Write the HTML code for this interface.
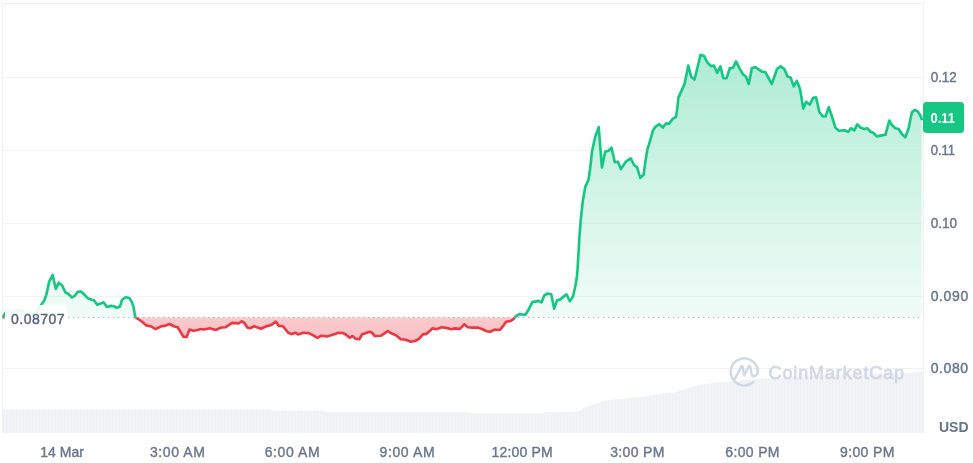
<!DOCTYPE html>
<html lang="en">
<head>
<meta charset="utf-8">
<title>Price chart</title>
<style>
html,body{margin:0;padding:0;background:#fff;}
body{width:973px;height:463px;overflow:hidden;font-family:"Liberation Sans", "DejaVu Sans", sans-serif;}
svg{display:block;}
text{font-family:"Liberation Sans", "DejaVu Sans", sans-serif;}
.ax{font-size:14px;fill:#6b778f;stroke:#6b778f;stroke-width:0.45px;}
.xl{font-size:14px;fill:#6b778f;stroke:#6b778f;stroke-width:0.4px;text-anchor:middle;}
</style>
</head>
<body>
<svg width="973" height="463" viewBox="0 0 973 463">
<defs>
<linearGradient id="gUp" gradientUnits="userSpaceOnUse" x1="0" y1="40" x2="0" y2="317.4">
<stop offset="0" stop-color="#16c784" stop-opacity="0.36"/>
<stop offset="1" stop-color="#16c784" stop-opacity="0.055"/>
</linearGradient>
<linearGradient id="gDn" gradientUnits="userSpaceOnUse" x1="0" y1="317.4" x2="0" y2="432">
<stop offset="0" stop-color="#ea3943" stop-opacity="0.27"/>
<stop offset="1" stop-color="#ea3943" stop-opacity="0.45"/>
</linearGradient>
<linearGradient id="gW" gradientUnits="userSpaceOnUse" x1="0" y1="40" x2="0" y2="317.4">
<stop offset="0" stop-color="#ffffff" stop-opacity="1"/>
<stop offset="0.45" stop-color="#ffffff" stop-opacity="0.8"/>
<stop offset="1" stop-color="#ffffff" stop-opacity="0"/>
</linearGradient>
<clipPath id="cUp"><rect x="0" y="0" width="973" height="317.4"/></clipPath>
<clipPath id="cDn"><rect x="0" y="317.4" width="973" height="150"/></clipPath>
<pattern id="vs" patternUnits="userSpaceOnUse" x="3" y="0" width="3.2" height="10">
<rect x="0" y="0" width="3.2" height="10" fill="#eff2f5"/>
<rect x="2.7" y="0" width="0.5" height="10" fill="#f6f8fa"/>
</pattern>
</defs>
<rect x="0" y="0" width="973" height="463" fill="#ffffff"/>
<!-- grid -->
<g fill="#eff2f5">
<rect x="2" y="3" width="922" height="1"/>
<rect x="2" y="77" width="922" height="1"/>
<rect x="2" y="150" width="922" height="1"/>
<rect x="2" y="223" width="922" height="1"/>
<rect x="2" y="296" width="922" height="1"/>
<rect x="2" y="368" width="922" height="1"/>
<rect x="2" y="432" width="922" height="1"/>
<rect x="2" y="3" width="1" height="430"/>
<rect x="923" y="3" width="1" height="430"/>
</g>
<!-- volume -->
<path d="M3.00,409.60 L272.00,409.60 L272.00,410.80 L324.00,410.80 L324.00,412.00 L468.00,412.00 L468.00,413.30 L545.00,413.30 L545.00,412.00 L575.00,411.70 L581.00,410.30 L584.00,407.70 L593.40,404.20 L603.70,401.10 L609.90,399.70 L622.20,399.00 L632.50,397.40 L642.80,397.00 L653.00,394.90 L663.30,393.30 L673.60,392.45 L683.90,389.70 L692.10,386.70 L702.40,384.60 L710.60,383.20 L720.90,382.00 L733.20,381.30 L759.00,378.70 L798.00,376.70 L837.00,374.70 L876.00,373.50 L902.00,373.00 L923.00,371.40 L923,432.5 L3,432.5 Z" fill="url(#vs)"/>
<!-- watermark -->
<g opacity="0.92">
<g fill="none" stroke="#cfd6e4" stroke-width="2.5" stroke-linecap="round" stroke-linejoin="round">
<path d="M753.3,381.9 A13.5,13.5 0 1 1 757.7,372.6"/>
<path d="M734.4,379.6 L741.2,366.8 Q742.3,365.0 742.8,367.2 L744.2,375.4 L748.6,366.8 Q750.0,364.8 750.5,367.4 L751.4,373.4 Q752.0,376.6 754.4,376.2 Q757.2,375.6 757.7,372.6"/>
</g>
<text x="768.6" y="378.8" font-size="18" letter-spacing="0.87" fill="#cfd6e4" stroke="#cfd6e4" stroke-width="0.75" stroke-linejoin="round">CoinMarketCap</text>
</g>
<!-- area -->
<path d="M3.50,317.40 L3.70,315.70 L7.40,309.90 L11.50,312.80 L17.30,309.90 L20.60,310.30 L25.50,312.80 L30.00,313.40 L36.20,312.60 L40.30,306.00 L41.30,304.70 L44.10,300.80 L46.40,294.60 L49.20,281.60 L52.60,275.00 L55.80,288.90 L58.80,282.70 L62.20,285.50 L65.30,292.30 L68.40,294.00 L72.10,297.40 L74.70,295.90 L77.70,291.70 L80.90,291.50 L84.30,294.60 L87.70,298.20 L91.60,299.70 L94.20,300.40 L97.30,304.70 L100.70,303.60 L103.50,302.30 L106.90,307.00 L110.80,305.90 L113.70,306.20 L116.80,307.80 L119.90,306.70 L122.10,299.70 L125.50,297.20 L129.30,298.00 L131.75,301.90 L133.40,306.40 L135.30,317.20 L135.61,317.40 L141.50,317.40 L146.40,317.40 L151.40,317.40 L155.50,317.40 L161.25,317.40 L164.50,317.40 L169.50,317.40 L174.40,317.40 L177.70,317.40 L183.50,317.40 L186.70,317.40 L189.50,317.40 L193.30,317.40 L196.60,317.40 L200.70,317.40 L204.00,317.40 L209.80,317.40 L215.50,317.40 L221.30,317.40 L225.40,317.40 L232.00,317.40 L238.60,317.40 L241.80,317.40 L244.30,317.40 L247.60,317.40 L250.00,317.40 L254.20,317.40 L260.80,317.40 L266.50,317.40 L271.40,317.40 L275.90,317.40 L278.80,317.40 L283.00,317.40 L288.20,317.40 L291.50,317.40 L295.60,317.40 L298.10,317.40 L303.00,317.40 L308.80,317.40 L313.70,317.40 L317.50,317.40 L321.10,317.40 L326.90,317.40 L332.60,317.40 L338.40,317.40 L343.30,317.40 L346.60,317.40 L349.90,317.40 L352.40,317.40 L355.70,317.40 L359.30,317.40 L362.20,317.40 L365.50,317.40 L368.80,317.40 L371.80,317.40 L374.60,317.40 L381.10,317.40 L387.70,317.40 L391.80,317.40 L396.00,317.40 L400.90,317.40 L405.80,317.40 L410.75,317.40 L414.90,317.40 L419.00,317.40 L423.10,317.40 L426.00,317.40 L428.80,317.40 L432.60,317.40 L435.40,317.40 L437.40,317.40 L441.50,317.40 L446.40,317.40 L451.40,317.40 L454.70,317.40 L459.60,317.40 L462.10,317.40 L464.20,317.40 L467.80,317.40 L472.80,317.40 L477.70,317.40 L482.60,317.40 L486.70,317.40 L490.00,317.40 L495.00,317.40 L499.90,317.40 L503.20,317.40 L506.00,317.40 L510.60,317.40 L513.10,317.40 L514.73,317.40 L515.50,316.50 L519.60,314.10 L525.40,314.70 L528.70,309.50 L532.30,302.10 L538.60,300.90 L541.50,302.40 L544.30,295.50 L547.60,293.50 L551.20,294.20 L554.20,308.70 L557.00,300.40 L559.90,299.60 L566.50,294.30 L569.80,301.25 L573.10,296.30 L575.60,284.80 L576.90,276.60 L577.50,270.00 L579.50,236.00 L580.80,219.20 L582.80,201.10 L585.20,187.10 L588.50,179.70 L590.20,168.20 L592.10,151.00 L595.40,136.20 L598.70,127.10 L601.90,167.40 L605.20,151.80 L608.50,150.70 L611.50,147.70 L614.80,162.20 L617.90,161.70 L620.90,169.10 L625.80,161.70 L630.70,158.40 L634.00,165.00 L637.00,167.10 L640.30,177.80 L643.60,174.80 L645.50,160.90 L647.20,150.20 L650.50,139.50 L652.90,130.40 L655.40,126.80 L659.20,124.20 L662.80,127.50 L666.10,123.40 L669.00,123.80 L672.70,118.90 L676.00,116.90 L677.30,108.20 L678.40,97.60 L684.70,83.60 L688.30,65.50 L691.25,77.00 L694.50,79.50 L700.60,54.80 L704.10,56.10 L707.70,63.00 L711.30,66.30 L713.90,65.50 L717.20,72.90 L720.40,66.30 L723.30,78.20 L726.60,78.20 L729.90,68.00 L732.90,68.00 L736.00,61.40 L739.80,68.80 L743.10,74.50 L745.90,76.50 L748.80,84.10 L751.80,68.30 L755.40,67.10 L762.00,71.70 L765.30,72.10 L771.80,84.10 L777.10,68.80 L780.60,66.30 L784.20,68.80 L787.50,76.50 L790.80,77.80 L793.70,86.40 L796.80,80.80 L800.10,89.30 L803.30,108.60 L806.20,101.80 L809.80,104.70 L813.10,97.70 L816.00,97.40 L819.40,112.10 L823.00,116.50 L825.50,116.50 L828.80,107.10 L832.10,117.00 L835.40,127.70 L839.00,130.70 L844.40,130.20 L848.20,131.80 L851.00,128.20 L854.30,130.50 L857.20,124.40 L860.90,127.70 L864.10,129.00 L867.10,128.20 L870.70,131.80 L873.50,133.00 L876.80,136.40 L880.60,135.60 L885.50,134.60 L889.30,120.60 L892.10,125.20 L895.40,128.20 L898.70,129.00 L902.00,134.30 L905.30,137.20 L908.60,128.50 L911.80,112.60 L914.60,110.10 L917.60,111.25 L920.10,114.90 L921.70,119.00 L921.70,317.4 L3.50,317.4 Z" fill="url(#gW)"/>
<path d="M3.50,317.40 L3.70,315.70 L7.40,309.90 L11.50,312.80 L17.30,309.90 L20.60,310.30 L25.50,312.80 L30.00,313.40 L36.20,312.60 L40.30,306.00 L41.30,304.70 L44.10,300.80 L46.40,294.60 L49.20,281.60 L52.60,275.00 L55.80,288.90 L58.80,282.70 L62.20,285.50 L65.30,292.30 L68.40,294.00 L72.10,297.40 L74.70,295.90 L77.70,291.70 L80.90,291.50 L84.30,294.60 L87.70,298.20 L91.60,299.70 L94.20,300.40 L97.30,304.70 L100.70,303.60 L103.50,302.30 L106.90,307.00 L110.80,305.90 L113.70,306.20 L116.80,307.80 L119.90,306.70 L122.10,299.70 L125.50,297.20 L129.30,298.00 L131.75,301.90 L133.40,306.40 L135.30,317.20 L135.61,317.40 L141.50,317.40 L146.40,317.40 L151.40,317.40 L155.50,317.40 L161.25,317.40 L164.50,317.40 L169.50,317.40 L174.40,317.40 L177.70,317.40 L183.50,317.40 L186.70,317.40 L189.50,317.40 L193.30,317.40 L196.60,317.40 L200.70,317.40 L204.00,317.40 L209.80,317.40 L215.50,317.40 L221.30,317.40 L225.40,317.40 L232.00,317.40 L238.60,317.40 L241.80,317.40 L244.30,317.40 L247.60,317.40 L250.00,317.40 L254.20,317.40 L260.80,317.40 L266.50,317.40 L271.40,317.40 L275.90,317.40 L278.80,317.40 L283.00,317.40 L288.20,317.40 L291.50,317.40 L295.60,317.40 L298.10,317.40 L303.00,317.40 L308.80,317.40 L313.70,317.40 L317.50,317.40 L321.10,317.40 L326.90,317.40 L332.60,317.40 L338.40,317.40 L343.30,317.40 L346.60,317.40 L349.90,317.40 L352.40,317.40 L355.70,317.40 L359.30,317.40 L362.20,317.40 L365.50,317.40 L368.80,317.40 L371.80,317.40 L374.60,317.40 L381.10,317.40 L387.70,317.40 L391.80,317.40 L396.00,317.40 L400.90,317.40 L405.80,317.40 L410.75,317.40 L414.90,317.40 L419.00,317.40 L423.10,317.40 L426.00,317.40 L428.80,317.40 L432.60,317.40 L435.40,317.40 L437.40,317.40 L441.50,317.40 L446.40,317.40 L451.40,317.40 L454.70,317.40 L459.60,317.40 L462.10,317.40 L464.20,317.40 L467.80,317.40 L472.80,317.40 L477.70,317.40 L482.60,317.40 L486.70,317.40 L490.00,317.40 L495.00,317.40 L499.90,317.40 L503.20,317.40 L506.00,317.40 L510.60,317.40 L513.10,317.40 L514.73,317.40 L515.50,316.50 L519.60,314.10 L525.40,314.70 L528.70,309.50 L532.30,302.10 L538.60,300.90 L541.50,302.40 L544.30,295.50 L547.60,293.50 L551.20,294.20 L554.20,308.70 L557.00,300.40 L559.90,299.60 L566.50,294.30 L569.80,301.25 L573.10,296.30 L575.60,284.80 L576.90,276.60 L577.50,270.00 L579.50,236.00 L580.80,219.20 L582.80,201.10 L585.20,187.10 L588.50,179.70 L590.20,168.20 L592.10,151.00 L595.40,136.20 L598.70,127.10 L601.90,167.40 L605.20,151.80 L608.50,150.70 L611.50,147.70 L614.80,162.20 L617.90,161.70 L620.90,169.10 L625.80,161.70 L630.70,158.40 L634.00,165.00 L637.00,167.10 L640.30,177.80 L643.60,174.80 L645.50,160.90 L647.20,150.20 L650.50,139.50 L652.90,130.40 L655.40,126.80 L659.20,124.20 L662.80,127.50 L666.10,123.40 L669.00,123.80 L672.70,118.90 L676.00,116.90 L677.30,108.20 L678.40,97.60 L684.70,83.60 L688.30,65.50 L691.25,77.00 L694.50,79.50 L700.60,54.80 L704.10,56.10 L707.70,63.00 L711.30,66.30 L713.90,65.50 L717.20,72.90 L720.40,66.30 L723.30,78.20 L726.60,78.20 L729.90,68.00 L732.90,68.00 L736.00,61.40 L739.80,68.80 L743.10,74.50 L745.90,76.50 L748.80,84.10 L751.80,68.30 L755.40,67.10 L762.00,71.70 L765.30,72.10 L771.80,84.10 L777.10,68.80 L780.60,66.30 L784.20,68.80 L787.50,76.50 L790.80,77.80 L793.70,86.40 L796.80,80.80 L800.10,89.30 L803.30,108.60 L806.20,101.80 L809.80,104.70 L813.10,97.70 L816.00,97.40 L819.40,112.10 L823.00,116.50 L825.50,116.50 L828.80,107.10 L832.10,117.00 L835.40,127.70 L839.00,130.70 L844.40,130.20 L848.20,131.80 L851.00,128.20 L854.30,130.50 L857.20,124.40 L860.90,127.70 L864.10,129.00 L867.10,128.20 L870.70,131.80 L873.50,133.00 L876.80,136.40 L880.60,135.60 L885.50,134.60 L889.30,120.60 L892.10,125.20 L895.40,128.20 L898.70,129.00 L902.00,134.30 L905.30,137.20 L908.60,128.50 L911.80,112.60 L914.60,110.10 L917.60,111.25 L920.10,114.90 L921.70,119.00 L921.70,317.4 L3.50,317.4 Z" fill="url(#gUp)"/>
<path d="M3.50,317.40 L3.70,317.40 L7.40,317.40 L11.50,317.40 L17.30,317.40 L20.60,317.40 L25.50,317.40 L30.00,317.40 L36.20,317.40 L40.30,317.40 L41.30,317.40 L44.10,317.40 L46.40,317.40 L49.20,317.40 L52.60,317.40 L55.80,317.40 L58.80,317.40 L62.20,317.40 L65.30,317.40 L68.40,317.40 L72.10,317.40 L74.70,317.40 L77.70,317.40 L80.90,317.40 L84.30,317.40 L87.70,317.40 L91.60,317.40 L94.20,317.40 L97.30,317.40 L100.70,317.40 L103.50,317.40 L106.90,317.40 L110.80,317.40 L113.70,317.40 L116.80,317.40 L119.90,317.40 L122.10,317.40 L125.50,317.40 L129.30,317.40 L131.75,317.40 L133.40,317.40 L135.30,317.40 L135.61,317.40 L141.50,321.25 L146.40,325.40 L151.40,326.50 L155.50,329.10 L161.25,326.20 L164.50,325.90 L169.50,324.00 L174.40,326.50 L177.70,327.30 L183.50,336.90 L186.70,336.90 L189.50,329.50 L193.30,330.80 L196.60,330.30 L200.70,329.00 L204.00,329.50 L209.80,328.20 L215.50,330.00 L221.30,327.50 L225.40,327.30 L232.00,322.90 L238.60,323.40 L241.80,321.25 L244.30,322.90 L247.60,327.80 L250.00,328.20 L254.20,326.20 L260.80,328.70 L266.50,326.20 L271.40,324.90 L275.90,321.70 L278.80,325.90 L283.00,326.20 L288.20,332.80 L291.50,334.10 L295.60,332.80 L298.10,334.40 L303.00,332.80 L308.80,333.10 L313.70,335.60 L317.50,338.00 L321.10,335.70 L326.90,336.40 L332.60,334.70 L338.40,332.80 L343.30,333.10 L346.60,335.20 L349.90,337.70 L352.40,336.00 L355.70,338.80 L359.30,339.30 L362.20,334.10 L365.50,333.25 L368.80,331.90 L371.80,332.40 L374.60,336.00 L381.10,335.70 L387.70,331.10 L391.80,333.60 L396.00,335.20 L400.90,339.30 L405.80,339.80 L410.75,341.80 L414.90,341.00 L419.00,338.80 L423.10,334.10 L426.00,334.10 L428.80,331.90 L432.60,328.20 L435.40,329.10 L437.40,328.90 L441.50,327.20 L446.40,327.90 L451.40,329.20 L454.70,328.40 L459.60,328.90 L462.10,326.70 L464.20,324.30 L467.80,327.20 L472.80,327.60 L477.70,327.60 L482.60,329.20 L486.70,331.30 L490.00,331.70 L495.00,329.50 L499.90,330.00 L503.20,325.90 L506.00,321.80 L510.60,321.00 L513.10,319.30 L514.73,317.40 L515.50,317.40 L519.60,317.40 L525.40,317.40 L528.70,317.40 L532.30,317.40 L538.60,317.40 L541.50,317.40 L544.30,317.40 L547.60,317.40 L551.20,317.40 L554.20,317.40 L557.00,317.40 L559.90,317.40 L566.50,317.40 L569.80,317.40 L573.10,317.40 L575.60,317.40 L576.90,317.40 L577.50,317.40 L579.50,317.40 L580.80,317.40 L582.80,317.40 L585.20,317.40 L588.50,317.40 L590.20,317.40 L592.10,317.40 L595.40,317.40 L598.70,317.40 L601.90,317.40 L605.20,317.40 L608.50,317.40 L611.50,317.40 L614.80,317.40 L617.90,317.40 L620.90,317.40 L625.80,317.40 L630.70,317.40 L634.00,317.40 L637.00,317.40 L640.30,317.40 L643.60,317.40 L645.50,317.40 L647.20,317.40 L650.50,317.40 L652.90,317.40 L655.40,317.40 L659.20,317.40 L662.80,317.40 L666.10,317.40 L669.00,317.40 L672.70,317.40 L676.00,317.40 L677.30,317.40 L678.40,317.40 L684.70,317.40 L688.30,317.40 L691.25,317.40 L694.50,317.40 L700.60,317.40 L704.10,317.40 L707.70,317.40 L711.30,317.40 L713.90,317.40 L717.20,317.40 L720.40,317.40 L723.30,317.40 L726.60,317.40 L729.90,317.40 L732.90,317.40 L736.00,317.40 L739.80,317.40 L743.10,317.40 L745.90,317.40 L748.80,317.40 L751.80,317.40 L755.40,317.40 L762.00,317.40 L765.30,317.40 L771.80,317.40 L777.10,317.40 L780.60,317.40 L784.20,317.40 L787.50,317.40 L790.80,317.40 L793.70,317.40 L796.80,317.40 L800.10,317.40 L803.30,317.40 L806.20,317.40 L809.80,317.40 L813.10,317.40 L816.00,317.40 L819.40,317.40 L823.00,317.40 L825.50,317.40 L828.80,317.40 L832.10,317.40 L835.40,317.40 L839.00,317.40 L844.40,317.40 L848.20,317.40 L851.00,317.40 L854.30,317.40 L857.20,317.40 L860.90,317.40 L864.10,317.40 L867.10,317.40 L870.70,317.40 L873.50,317.40 L876.80,317.40 L880.60,317.40 L885.50,317.40 L889.30,317.40 L892.10,317.40 L895.40,317.40 L898.70,317.40 L902.00,317.40 L905.30,317.40 L908.60,317.40 L911.80,317.40 L914.60,317.40 L917.60,317.40 L920.10,317.40 L921.70,317.40 L921.70,317.4 L3.50,317.4 Z" fill="url(#gDn)"/>
<!-- baseline dotted -->
<line x1="3" y1="317.4" x2="923" y2="317.4" stroke="#8a93a5" stroke-width="1" stroke-dasharray="1 4" stroke-dashoffset="-0.3" />
<!-- line -->
<path d="M3.50,317.40 L3.70,315.70 L7.40,309.90 L11.50,312.80 L17.30,309.90 L20.60,310.30 L25.50,312.80 L30.00,313.40 L36.20,312.60 L40.30,306.00 L41.30,304.70 L44.10,300.80 L46.40,294.60 L49.20,281.60 L52.60,275.00 L55.80,288.90 L58.80,282.70 L62.20,285.50 L65.30,292.30 L68.40,294.00 L72.10,297.40 L74.70,295.90 L77.70,291.70 L80.90,291.50 L84.30,294.60 L87.70,298.20 L91.60,299.70 L94.20,300.40 L97.30,304.70 L100.70,303.60 L103.50,302.30 L106.90,307.00 L110.80,305.90 L113.70,306.20 L116.80,307.80 L119.90,306.70 L122.10,299.70 L125.50,297.20 L129.30,298.00 L131.75,301.90 L133.40,306.40 L135.30,317.20 L141.50,321.25 L146.40,325.40 L151.40,326.50 L155.50,329.10 L161.25,326.20 L164.50,325.90 L169.50,324.00 L174.40,326.50 L177.70,327.30 L183.50,336.90 L186.70,336.90 L189.50,329.50 L193.30,330.80 L196.60,330.30 L200.70,329.00 L204.00,329.50 L209.80,328.20 L215.50,330.00 L221.30,327.50 L225.40,327.30 L232.00,322.90 L238.60,323.40 L241.80,321.25 L244.30,322.90 L247.60,327.80 L250.00,328.20 L254.20,326.20 L260.80,328.70 L266.50,326.20 L271.40,324.90 L275.90,321.70 L278.80,325.90 L283.00,326.20 L288.20,332.80 L291.50,334.10 L295.60,332.80 L298.10,334.40 L303.00,332.80 L308.80,333.10 L313.70,335.60 L317.50,338.00 L321.10,335.70 L326.90,336.40 L332.60,334.70 L338.40,332.80 L343.30,333.10 L346.60,335.20 L349.90,337.70 L352.40,336.00 L355.70,338.80 L359.30,339.30 L362.20,334.10 L365.50,333.25 L368.80,331.90 L371.80,332.40 L374.60,336.00 L381.10,335.70 L387.70,331.10 L391.80,333.60 L396.00,335.20 L400.90,339.30 L405.80,339.80 L410.75,341.80 L414.90,341.00 L419.00,338.80 L423.10,334.10 L426.00,334.10 L428.80,331.90 L432.60,328.20 L435.40,329.10 L437.40,328.90 L441.50,327.20 L446.40,327.90 L451.40,329.20 L454.70,328.40 L459.60,328.90 L462.10,326.70 L464.20,324.30 L467.80,327.20 L472.80,327.60 L477.70,327.60 L482.60,329.20 L486.70,331.30 L490.00,331.70 L495.00,329.50 L499.90,330.00 L503.20,325.90 L506.00,321.80 L510.60,321.00 L513.10,319.30 L515.50,316.50 L519.60,314.10 L525.40,314.70 L528.70,309.50 L532.30,302.10 L538.60,300.90 L541.50,302.40 L544.30,295.50 L547.60,293.50 L551.20,294.20 L554.20,308.70 L557.00,300.40 L559.90,299.60 L566.50,294.30 L569.80,301.25 L573.10,296.30 L575.60,284.80 L576.90,276.60 L577.50,270.00 L579.50,236.00 L580.80,219.20 L582.80,201.10 L585.20,187.10 L588.50,179.70 L590.20,168.20 L592.10,151.00 L595.40,136.20 L598.70,127.10 L601.90,167.40 L605.20,151.80 L608.50,150.70 L611.50,147.70 L614.80,162.20 L617.90,161.70 L620.90,169.10 L625.80,161.70 L630.70,158.40 L634.00,165.00 L637.00,167.10 L640.30,177.80 L643.60,174.80 L645.50,160.90 L647.20,150.20 L650.50,139.50 L652.90,130.40 L655.40,126.80 L659.20,124.20 L662.80,127.50 L666.10,123.40 L669.00,123.80 L672.70,118.90 L676.00,116.90 L677.30,108.20 L678.40,97.60 L684.70,83.60 L688.30,65.50 L691.25,77.00 L694.50,79.50 L700.60,54.80 L704.10,56.10 L707.70,63.00 L711.30,66.30 L713.90,65.50 L717.20,72.90 L720.40,66.30 L723.30,78.20 L726.60,78.20 L729.90,68.00 L732.90,68.00 L736.00,61.40 L739.80,68.80 L743.10,74.50 L745.90,76.50 L748.80,84.10 L751.80,68.30 L755.40,67.10 L762.00,71.70 L765.30,72.10 L771.80,84.10 L777.10,68.80 L780.60,66.30 L784.20,68.80 L787.50,76.50 L790.80,77.80 L793.70,86.40 L796.80,80.80 L800.10,89.30 L803.30,108.60 L806.20,101.80 L809.80,104.70 L813.10,97.70 L816.00,97.40 L819.40,112.10 L823.00,116.50 L825.50,116.50 L828.80,107.10 L832.10,117.00 L835.40,127.70 L839.00,130.70 L844.40,130.20 L848.20,131.80 L851.00,128.20 L854.30,130.50 L857.20,124.40 L860.90,127.70 L864.10,129.00 L867.10,128.20 L870.70,131.80 L873.50,133.00 L876.80,136.40 L880.60,135.60 L885.50,134.60 L889.30,120.60 L892.10,125.20 L895.40,128.20 L898.70,129.00 L902.00,134.30 L905.30,137.20 L908.60,128.50 L911.80,112.60 L914.60,110.10 L917.60,111.25 L920.10,114.90 L921.70,119.00" fill="none" stroke="#16c784" stroke-width="2.65" stroke-linejoin="round" stroke-linecap="round" clip-path="url(#cUp)"/>
<path d="M3.50,317.40 L3.70,315.70 L7.40,309.90 L11.50,312.80 L17.30,309.90 L20.60,310.30 L25.50,312.80 L30.00,313.40 L36.20,312.60 L40.30,306.00 L41.30,304.70 L44.10,300.80 L46.40,294.60 L49.20,281.60 L52.60,275.00 L55.80,288.90 L58.80,282.70 L62.20,285.50 L65.30,292.30 L68.40,294.00 L72.10,297.40 L74.70,295.90 L77.70,291.70 L80.90,291.50 L84.30,294.60 L87.70,298.20 L91.60,299.70 L94.20,300.40 L97.30,304.70 L100.70,303.60 L103.50,302.30 L106.90,307.00 L110.80,305.90 L113.70,306.20 L116.80,307.80 L119.90,306.70 L122.10,299.70 L125.50,297.20 L129.30,298.00 L131.75,301.90 L133.40,306.40 L135.30,317.20 L141.50,321.25 L146.40,325.40 L151.40,326.50 L155.50,329.10 L161.25,326.20 L164.50,325.90 L169.50,324.00 L174.40,326.50 L177.70,327.30 L183.50,336.90 L186.70,336.90 L189.50,329.50 L193.30,330.80 L196.60,330.30 L200.70,329.00 L204.00,329.50 L209.80,328.20 L215.50,330.00 L221.30,327.50 L225.40,327.30 L232.00,322.90 L238.60,323.40 L241.80,321.25 L244.30,322.90 L247.60,327.80 L250.00,328.20 L254.20,326.20 L260.80,328.70 L266.50,326.20 L271.40,324.90 L275.90,321.70 L278.80,325.90 L283.00,326.20 L288.20,332.80 L291.50,334.10 L295.60,332.80 L298.10,334.40 L303.00,332.80 L308.80,333.10 L313.70,335.60 L317.50,338.00 L321.10,335.70 L326.90,336.40 L332.60,334.70 L338.40,332.80 L343.30,333.10 L346.60,335.20 L349.90,337.70 L352.40,336.00 L355.70,338.80 L359.30,339.30 L362.20,334.10 L365.50,333.25 L368.80,331.90 L371.80,332.40 L374.60,336.00 L381.10,335.70 L387.70,331.10 L391.80,333.60 L396.00,335.20 L400.90,339.30 L405.80,339.80 L410.75,341.80 L414.90,341.00 L419.00,338.80 L423.10,334.10 L426.00,334.10 L428.80,331.90 L432.60,328.20 L435.40,329.10 L437.40,328.90 L441.50,327.20 L446.40,327.90 L451.40,329.20 L454.70,328.40 L459.60,328.90 L462.10,326.70 L464.20,324.30 L467.80,327.20 L472.80,327.60 L477.70,327.60 L482.60,329.20 L486.70,331.30 L490.00,331.70 L495.00,329.50 L499.90,330.00 L503.20,325.90 L506.00,321.80 L510.60,321.00 L513.10,319.30 L515.50,316.50 L519.60,314.10 L525.40,314.70 L528.70,309.50 L532.30,302.10 L538.60,300.90 L541.50,302.40 L544.30,295.50 L547.60,293.50 L551.20,294.20 L554.20,308.70 L557.00,300.40 L559.90,299.60 L566.50,294.30 L569.80,301.25 L573.10,296.30 L575.60,284.80 L576.90,276.60 L577.50,270.00 L579.50,236.00 L580.80,219.20 L582.80,201.10 L585.20,187.10 L588.50,179.70 L590.20,168.20 L592.10,151.00 L595.40,136.20 L598.70,127.10 L601.90,167.40 L605.20,151.80 L608.50,150.70 L611.50,147.70 L614.80,162.20 L617.90,161.70 L620.90,169.10 L625.80,161.70 L630.70,158.40 L634.00,165.00 L637.00,167.10 L640.30,177.80 L643.60,174.80 L645.50,160.90 L647.20,150.20 L650.50,139.50 L652.90,130.40 L655.40,126.80 L659.20,124.20 L662.80,127.50 L666.10,123.40 L669.00,123.80 L672.70,118.90 L676.00,116.90 L677.30,108.20 L678.40,97.60 L684.70,83.60 L688.30,65.50 L691.25,77.00 L694.50,79.50 L700.60,54.80 L704.10,56.10 L707.70,63.00 L711.30,66.30 L713.90,65.50 L717.20,72.90 L720.40,66.30 L723.30,78.20 L726.60,78.20 L729.90,68.00 L732.90,68.00 L736.00,61.40 L739.80,68.80 L743.10,74.50 L745.90,76.50 L748.80,84.10 L751.80,68.30 L755.40,67.10 L762.00,71.70 L765.30,72.10 L771.80,84.10 L777.10,68.80 L780.60,66.30 L784.20,68.80 L787.50,76.50 L790.80,77.80 L793.70,86.40 L796.80,80.80 L800.10,89.30 L803.30,108.60 L806.20,101.80 L809.80,104.70 L813.10,97.70 L816.00,97.40 L819.40,112.10 L823.00,116.50 L825.50,116.50 L828.80,107.10 L832.10,117.00 L835.40,127.70 L839.00,130.70 L844.40,130.20 L848.20,131.80 L851.00,128.20 L854.30,130.50 L857.20,124.40 L860.90,127.70 L864.10,129.00 L867.10,128.20 L870.70,131.80 L873.50,133.00 L876.80,136.40 L880.60,135.60 L885.50,134.60 L889.30,120.60 L892.10,125.20 L895.40,128.20 L898.70,129.00 L902.00,134.30 L905.30,137.20 L908.60,128.50 L911.80,112.60 L914.60,110.10 L917.60,111.25 L920.10,114.90 L921.70,119.00" fill="none" stroke="#ea3943" stroke-width="2.65" stroke-linejoin="round" stroke-linecap="round" clip-path="url(#cDn)"/>
<!-- baseline label -->
<rect x="5" y="305" width="63" height="26" rx="6" fill="#ffffff" fill-opacity="0.9"/>
<text x="11.0" y="323.9" font-size="14" letter-spacing="0.5" fill="#58667e" stroke="#58667e" stroke-width="0.45">0.08707</text>
<!-- y labels -->
<text x="930.7" y="81.8" textLength="26.1" lengthAdjust="spacingAndGlyphs" class="ax">0.12</text>
<text x="930.7" y="154.8" textLength="24.4" lengthAdjust="spacingAndGlyphs" class="ax">0.11</text>
<text x="930.7" y="227.8" textLength="26.4" lengthAdjust="spacingAndGlyphs" class="ax">0.10</text>
<text x="930.7" y="300.8" letter-spacing="0.62" class="ax">0.090</text>
<text x="930.7" y="373.3" letter-spacing="0.6" class="ax">0.080</text>
<!-- current price tag -->
<rect x="923" y="102" width="41" height="31" rx="3.5" fill="#16c784"/>
<text x="930.6" y="123" font-size="14" font-weight="bold" textLength="24.4" lengthAdjust="spacingAndGlyphs" fill="#ffffff">0.11</text>
<text x="939" y="431.9" font-size="14" font-weight="bold" fill="#68748b">USD</text>
<!-- x labels -->
<text x="62.1" y="456.9" letter-spacing="0" class="xl">14 Mar</text>
<text x="177.7" y="456.9" letter-spacing="0.6" class="xl">3:00 AM</text>
<text x="292.5" y="456.9" letter-spacing="0.6" class="xl">6:00 AM</text>
<text x="407.4" y="456.9" letter-spacing="0.6" class="xl">9:00 AM</text>
<text x="522.2" y="456.9" letter-spacing="0.2" class="xl">12:00 PM</text>
<text x="637.5" y="456.9" letter-spacing="0.35" class="xl">3:00 PM</text>
<text x="752.6" y="456.9" letter-spacing="0.35" class="xl">6:00 PM</text>
<text x="867.4" y="456.9" letter-spacing="0.35" class="xl">9:00 PM</text>
</svg>
</body>
</html>
